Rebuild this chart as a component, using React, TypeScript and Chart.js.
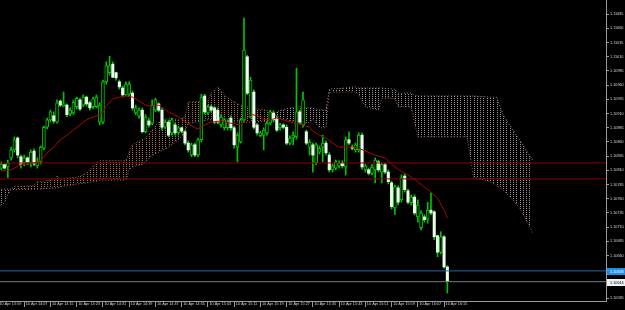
import { useEffect, useRef } from 'react';
import { Chart, registerables } from 'chart.js';

Chart.register(...registerables);

// bar index 1 = 10 Apr 14:00 (M1 bars)
const firstBar = 1;

const openP = [
  1.10814, 1.10820, 1.10816, 1.10832, 1.10846, 1.10867, 1.10834, 1.10823, 1.10832, 1.10823,
  1.10844, 1.10818, 1.10825, 1.10849, 1.10886, 1.10899, 1.10906, 1.10895, 1.10932, 1.10923,
  1.10925, 1.10909, 1.10911, 1.10922, 1.10934, 1.10925, 1.10939, 1.10929, 1.10922, 1.10922,
  1.10895, 1.10895, 1.10966, 1.10982, 1.10997, 1.10982, 1.10966, 1.10955, 1.10943, 1.10944,
  1.10946, 1.10911, 1.10906, 1.10916, 1.10878, 1.10897, 1.10893, 1.10916, 1.10927, 1.10916,
  1.10886, 1.10895, 1.10876, 1.10890, 1.10876, 1.10885, 1.10878, 1.10858, 1.10837, 1.10855,
  1.10837, 1.10864, 1.10941, 1.10911, 1.10922, 1.10920, 1.10916, 1.10890, 1.10885, 1.10885,
  1.10902, 1.10885, 1.10851, 1.10860, 1.10899, 1.11010, 1.10904, 1.10948, 1.10890, 1.10871,
  1.10872, 1.10876, 1.10893, 1.10911, 1.10902, 1.10885, 1.10890, 1.10886, 1.10858, 1.10867,
  1.10869, 1.10913, 1.10890, 1.10878, 1.10851, 1.10855, 1.10823, 1.10842, 1.10851, 1.10858,
  1.10837, 1.10811, 1.10814, 1.10818, 1.10823, 1.10816, 1.10864, 1.10851, 1.10846, 1.10846,
  1.10872, 1.10811, 1.10811, 1.10805, 1.10811, 1.10825, 1.10807, 1.10820, 1.10807, 1.10788,
  1.10744, 1.10779, 1.10758, 1.10800, 1.10774, 1.10753, 1.10763, 1.10728, 1.10709, 1.10728,
  1.10724, 1.10740, 1.10737, 1.10695, 1.10666, 1.10693, 1.10640,
];
const highP = [
  1.10825, 1.10821, 1.10828, 1.10851, 1.10869, 1.10869, 1.10837, 1.10837, 1.10834, 1.10846,
  1.10848, 1.10832, 1.10853, 1.10888, 1.10902, 1.10916, 1.10913, 1.10934, 1.10934, 1.10948,
  1.10927, 1.10920, 1.10934, 1.10939, 1.10937, 1.10943, 1.10941, 1.10932, 1.10939, 1.10943,
  1.10929, 1.10969, 1.11001, 1.11011, 1.11001, 1.10983, 1.10969, 1.10959, 1.10966, 1.10966,
  1.10950, 1.10925, 1.10920, 1.10920, 1.10908, 1.10902, 1.10934, 1.10937, 1.10929, 1.10920,
  1.10899, 1.10899, 1.10902, 1.10893, 1.10888, 1.10886, 1.10881, 1.10862, 1.10858, 1.10858,
  1.10867, 1.10944, 1.10944, 1.10925, 1.10925, 1.10923, 1.10920, 1.10908, 1.10902, 1.10899,
  1.10906, 1.10888, 1.10876, 1.10902, 1.11078, 1.11013, 1.10974, 1.10952, 1.10893, 1.10879,
  1.10885, 1.10897, 1.10916, 1.10915, 1.10906, 1.10893, 1.10892, 1.10890, 1.10871, 1.10878,
  1.10990, 1.10916, 1.10948, 1.10881, 1.10864, 1.10858, 1.10858, 1.10853, 1.10872, 1.10862,
  1.10841, 1.10821, 1.10828, 1.10827, 1.10827, 1.10869, 1.10878, 1.10855, 1.10858, 1.10876,
  1.10876, 1.10821, 1.10814, 1.10820, 1.10832, 1.10828, 1.10823, 1.10823, 1.10811, 1.10791,
  1.10784, 1.10783, 1.10802, 1.10804, 1.10777, 1.10767, 1.10767, 1.10758, 1.10739, 1.10732,
  1.10754, 1.10770, 1.10739, 1.10696, 1.10702, 1.10695, 1.10642,
];
const lowP = [
  1.10811, 1.10812, 1.10797, 1.10828, 1.10842, 1.10832, 1.10814, 1.10818, 1.10820, 1.10816,
  1.10818, 1.10814, 1.10821, 1.10846, 1.10883, 1.10895, 1.10893, 1.10893, 1.10922, 1.10922,
  1.10904, 1.10906, 1.10908, 1.10918, 1.10915, 1.10922, 1.10923, 1.10916, 1.10918, 1.10920,
  1.10890, 1.10892, 1.10962, 1.10978, 1.10973, 1.10969, 1.10953, 1.10939, 1.10941, 1.10941,
  1.10916, 1.10908, 1.10902, 1.10876, 1.10876, 1.10886, 1.10890, 1.10913, 1.10913, 1.10881,
  1.10883, 1.10869, 1.10872, 1.10872, 1.10872, 1.10876, 1.10855, 1.10842, 1.10834, 1.10834,
  1.10834, 1.10860, 1.10909, 1.10908, 1.10913, 1.10892, 1.10892, 1.10886, 1.10881, 1.10881,
  1.10881, 1.10849, 1.10825, 1.10858, 1.10895, 1.10943, 1.10902, 1.10883, 1.10872, 1.10869,
  1.10846, 1.10872, 1.10890, 1.10895, 1.10878, 1.10881, 1.10883, 1.10855, 1.10855, 1.10855,
  1.10865, 1.10892, 1.10886, 1.10855, 1.10837, 1.10807, 1.10820, 1.10839, 1.10825, 1.10837,
  1.10807, 1.10807, 1.10811, 1.10814, 1.10814, 1.10802, 1.10855, 1.10846, 1.10842, 1.10842,
  1.10812, 1.10807, 1.10802, 1.10802, 1.10788, 1.10807, 1.10788, 1.10804, 1.10786, 1.10742,
  1.10732, 1.10749, 1.10754, 1.10772, 1.10751, 1.10749, 1.10732, 1.10719, 1.10705, 1.10719,
  1.10717, 1.10732, 1.10688, 1.10658, 1.10663, 1.10638, 1.10594,
];
const closeP = [
  1.10821, 1.10814, 1.10823, 1.10846, 1.10864, 1.10837, 1.10820, 1.10832, 1.10825, 1.10842,
  1.10821, 1.10825, 1.10851, 1.10886, 1.10899, 1.10913, 1.10897, 1.10929, 1.10925, 1.10927,
  1.10908, 1.10916, 1.10930, 1.10937, 1.10918, 1.10939, 1.10927, 1.10920, 1.10936, 1.10939,
  1.10925, 1.10966, 1.10994, 1.10994, 1.10974, 1.10973, 1.10957, 1.10943, 1.10962, 1.10962,
  1.10920, 1.10920, 1.10916, 1.10878, 1.10904, 1.10890, 1.10925, 1.10934, 1.10916, 1.10886,
  1.10895, 1.10872, 1.10899, 1.10876, 1.10885, 1.10879, 1.10858, 1.10846, 1.10855, 1.10837,
  1.10864, 1.10939, 1.10913, 1.10922, 1.10916, 1.10895, 1.10895, 1.10904, 1.10899, 1.10895,
  1.10885, 1.10855, 1.10872, 1.10899, 1.11022, 1.10946, 1.10969, 1.10886, 1.10876, 1.10876,
  1.10881, 1.10893, 1.10913, 1.10899, 1.10881, 1.10890, 1.10886, 1.10858, 1.10867, 1.10872,
  1.10913, 1.10895, 1.10934, 1.10858, 1.10860, 1.10837, 1.10855, 1.10849, 1.10858, 1.10841,
  1.10811, 1.10818, 1.10825, 1.10823, 1.10818, 1.10864, 1.10858, 1.10849, 1.10855, 1.10872,
  1.10816, 1.10818, 1.10805, 1.10816, 1.10828, 1.10811, 1.10820, 1.10807, 1.10790, 1.10746,
  1.10781, 1.10754, 1.10797, 1.10776, 1.10754, 1.10763, 1.10735, 1.10749, 1.10735, 1.10723,
  1.10740, 1.10735, 1.10693, 1.10666, 1.10693, 1.10640, 1.10615,
];

// moving average (bar index, value)
const maIdx = [1, 4, 7, 11, 13, 15, 17, 19, 21, 23, 25, 27, 29, 31, 32, 33, 35, 37, 39, 41, 43, 45, 47, 49, 52, 55, 58, 60, 61, 63, 65, 68, 71, 74, 76, 77, 79, 81, 83, 85, 87, 89, 91, 93, 95, 96, 98, 100, 102, 104, 106, 108, 110, 112, 114, 116, 118, 120, 122, 124, 126, 128, 130, 132, 134, 136, 137];
const maVal = [1.10809, 1.10811, 1.10820, 1.10823, 1.10827, 1.10841, 1.10851, 1.10864, 1.10872, 1.10881, 1.10890, 1.10899, 1.10904, 1.10908, 1.10913, 1.10923, 1.10936, 1.10939, 1.10941, 1.10939, 1.10932, 1.10925, 1.10923, 1.10925, 1.10913, 1.10904, 1.10893, 1.10885, 1.10883, 1.10890, 1.10895, 1.10897, 1.10893, 1.10890, 1.10902, 1.10909, 1.10906, 1.10900, 1.10899, 1.10902, 1.10899, 1.10895, 1.10893, 1.10890, 1.10886, 1.10879, 1.10872, 1.10867, 1.10858, 1.10851, 1.10851, 1.10851, 1.10849, 1.10844, 1.10839, 1.10835, 1.10832, 1.10821, 1.10812, 1.10805, 1.10798, 1.10790, 1.10781, 1.10772, 1.10761, 1.10740, 1.10726];

// Ichimoku cloud (bar index, Senkou Span A, Senkou Span B)
const cloudIdx = [0, 2, 3, 4, 5, 11, 12, 17, 18, 19, 24, 27, 30, 31, 39, 40, 41, 44, 45, 47, 49, 52, 55, 57, 58, 64, 65, 67, 69, 71, 73, 77, 82, 84, 86, 91, 92, 95, 96, 98, 100, 101, 106, 109, 110, 112, 116, 117, 121, 122, 126, 127, 128, 143, 145, 150, 152, 154, 157, 159, 161, 163];
const spanA = [1.10746, 1.10753, 1.10767, 1.10777, 1.10781, 1.10783, 1.10790, 1.10793, 1.10800, 1.10795, 1.10798, 1.10805, 1.10823, 1.10827, 1.10827, 1.10842, 1.10855, 1.10864, 1.10867, 1.10881, 1.10895, 1.10902, 1.10899, 1.10904, 1.10930, 1.10932, 1.10946, 1.10957, 1.10943, 1.10934, 1.10927, 1.10920, 1.10916, 1.10909, 1.10902, 1.10895, 1.10890, 1.10895, 1.10900, 1.10885, 1.10885, 1.10948, 1.10948, 1.10948, 1.10943, 1.10922, 1.10916, 1.10937, 1.10937, 1.10922, 1.10922, 1.10895, 1.10869, 1.10869, 1.10798, 1.10790, 1.10783, 1.10776, 1.10758, 1.10744, 1.10723, 1.10700];
const spanB = [1.10777, 1.10777, 1.10777, 1.10777, 1.10776, 1.10777, 1.10777, 1.10779, 1.10779, 1.10781, 1.10786, 1.10788, 1.10791, 1.10793, 1.10793, 1.10811, 1.10816, 1.10821, 1.10825, 1.10837, 1.10842, 1.10851, 1.10864, 1.10876, 1.10893, 1.10899, 1.10899, 1.10899, 1.10897, 1.10895, 1.10895, 1.10895, 1.10897, 1.10909, 1.10916, 1.10922, 1.10922, 1.10920, 1.10920, 1.10916, 1.10916, 1.10953, 1.10955, 1.10957, 1.10955, 1.10955, 1.10955, 1.10955, 1.10953, 1.10946, 1.10946, 1.10943, 1.10941, 1.10941, 1.10941, 1.10939, 1.10939, 1.10908, 1.10881, 1.10864, 1.10846, 1.10828];

// horizontal levels
const redLevels = [1.10823, 1.10795];
const askLevel = 1.10633;
const bidLevel = 1.10614;

// axis ticks
const timeTickIdx = [0, 8, 16, 24, 32, 40, 48, 56, 64, 72, 80, 88, 96, 104, 112, 120, 128, 136];
const timeTickLabels = [
  '10 Apr 13:59', '10 Apr 14:07', '10 Apr 14:15', '10 Apr 14:23', '10 Apr 14:31', '10 Apr 14:39',
  '10 Apr 14:47', '10 Apr 14:55', '10 Apr 15:03', '10 Apr 15:11', '10 Apr 15:19', '10 Apr 15:27',
  '10 Apr 15:35', '10 Apr 15:43', '10 Apr 15:51', '10 Apr 15:59', '10 Apr 16:07', '10 Apr 16:15',
];
const priceTicks = [
  1.10585, 1.10610, 1.10635, 1.10660, 1.10685, 1.10710, 1.10735, 1.10760, 1.10785, 1.10810,
  1.10835, 1.10860, 1.10885, 1.10910, 1.10935, 1.10960, 1.10985, 1.11010, 1.11035, 1.11060, 1.11085,
];

const X_MIN = 0.61;
const X_MAX = 185.37;
const Y_MIN = 1.1058;
const Y_MAX = 1.1111;
const FONT = '"Liberation Sans", Arial, sans-serif';

export default function App() {
  const ref = useRef<HTMLCanvasElement>(null);

  useEffect(() => {
    document.body.style.margin = '0';
    document.body.style.background = '#000';
    const canvas = ref.current!;
    const ctx = canvas.getContext('2d')!;

    const makeDots = (color: string) => {
      const tile = document.createElement('canvas');
      tile.width = 82;
      tile.height = 2;
      const g = tile.getContext('2d')!;
      g.fillStyle = color;
      for (let k = 0; k < 25; k++) {
        const x = ((Math.round(-2 + 3.28 * k) % 82) + 82) % 82;
        g.fillRect(x, 0, 1, 1);
      }
      return ctx.createPattern(tile, 'repeat')!;
    };
    const brownDots = makeDots('#a8714a');
    const greyDots = makeDots('#9c8e9c');

    const bars = openP.map((_, k) => firstBar + k);
    const wicks = bars.map((x, k) => ({ x, y: [lowP[k], highP[k]] }));
    const bull = bars
      .map((x, k) => (closeP[k] >= openP[k] ? { x, y: [openP[k], closeP[k]] } : null))
      .filter(Boolean);
    const bear = bars
      .map((x, k) => (closeP[k] < openP[k] ? { x, y: [closeP[k], openP[k]] } : null))
      .filter(Boolean);

    const hline = (v: number) => [
      { x: X_MIN, y: v },
      { x: X_MAX, y: v },
    ];

    const tagPlugin = {
      id: 'priceTags',
      afterDraw(chart: any) {
        const ys = chart.scales.y;
        const c = chart.ctx;
        const left = chart.chartArea.right + 1;
        const tags = [
          { v: askLevel, bg: '#1f8fe6', fg: '#ffffff' },
          { v: bidLevel, bg: '#f2f2f2', fg: '#000000' },
        ];
        c.save();
        for (const t of tags) {
          const py = ys.getPixelForValue(t.v);
          c.fillStyle = t.bg;
          c.fillRect(left, Math.round(py) - 3, 625 - left, 7);
          c.fillStyle = t.fg;
          c.font = `3.8px ${FONT}`;
          c.textBaseline = 'middle';
          c.textAlign = 'left';
          c.fillText(t.v.toFixed(5), left + 3, Math.round(py) + 0.5);
        }
        c.restore();
      },
    };

    const chart = new Chart(canvas, {
      type: 'bar',
      data: {
        datasets: [
          {
            type: 'line',
            label: 'Senkou Span B',
            data: cloudIdx.map((x, k) => ({ x, y: spanB[k] })),
            borderColor: '#8e808e',
            borderWidth: 1,
            borderDash: [1, 2],
            pointRadius: 0,
            fill: false,
            order: 11,
          },
          {
            type: 'line',
            label: 'Senkou Span A',
            data: cloudIdx.map((x, k) => ({ x, y: spanA[k] })),
            borderColor: '#9c6440',
            borderWidth: 1,
            borderDash: [1, 2],
            pointRadius: 0,
            fill: { target: 0, above: brownDots, below: greyDots },
            order: 10,
          },
          {
            type: 'bar',
            label: 'wicks',
            data: wicks as any,
            grouped: false,
            barThickness: 1,
            backgroundColor: '#00c400',
            borderWidth: 0,
            order: 6,
          },
          {
            type: 'bar',
            label: 'bull',
            data: bull as any,
            grouped: false,
            barThickness: 3,
            backgroundColor: '#000000',
            borderColor: '#00c800',
            borderWidth: 1,
            borderSkipped: false,
            order: 5,
          },
          {
            type: 'bar',
            label: 'bear',
            data: bear as any,
            grouped: false,
            barThickness: 2.4,
            backgroundColor: '#eaffea',
            borderWidth: 0,
            order: 4,
          },
          {
            type: 'line',
            label: 'MA',
            data: maIdx.map((x, k) => ({ x, y: maVal[k] })),
            borderColor: '#a80808',
            borderWidth: 1,
            pointRadius: 0,
            fill: false,
            order: 3,
          },
          ...redLevels.map((v) => ({
            type: 'line' as const,
            label: 'level',
            data: hline(v),
            borderColor: '#8c0000',
            borderWidth: 1,
            pointRadius: 0,
            fill: false,
            order: 2,
          })),
          {
            type: 'line',
            label: 'ask',
            data: hline(askLevel),
            borderColor: '#2166a8',
            borderWidth: 1,
            pointRadius: 0,
            fill: false,
            order: 1,
          },
          {
            type: 'line',
            label: 'bid',
            data: hline(bidLevel),
            borderColor: '#7a7a7a',
            borderWidth: 1,
            pointRadius: 0,
            fill: false,
            order: 1,
          },
        ] as any,
      },
      options: {
        responsive: false,
        animation: false,
        events: [],
        layout: { padding: 0 },
        plugins: { legend: { display: false }, tooltip: { enabled: false } },
        scales: {
          x: {
            type: 'linear',
            min: X_MIN,
            max: X_MAX,
            offset: false,
            bounds: 'data',
            afterBuildTicks: (s: any) => {
              s.ticks = timeTickIdx.map((v) => ({ value: v }));
            },
            afterFit: (s: any) => {
              s.height = 9;
              s.paddingLeft = 0;
              s.paddingRight = 0;
            },
            ticks: {
              autoSkip: false,
              maxRotation: 0,
              minRotation: 0,
              align: 'start',
              padding: -5,
              labelOffset: 1.5,
              color: '#d2d2d2',
              font: { size: 3.8, family: FONT },
              callback: (v: any) => {
                const i = timeTickIdx.indexOf(Number(v));
                return i >= 0 ? timeTickLabels[i] : '';
              },
            },
            grid: { drawOnChartArea: false, drawTicks: true, tickLength: 6, color: '#9a9a9a', offset: false },
            border: { display: true, color: '#9a9a9a' },
          },
          y: {
            type: 'linear',
            position: 'right',
            min: Y_MIN,
            max: Y_MAX,
            bounds: 'data',
            afterBuildTicks: (s: any) => {
              s.ticks = priceTicks.map((v) => ({ value: v }));
            },
            afterFit: (s: any) => {
              s.width = 19;
              s.paddingTop = 0;
              s.paddingBottom = 0;
            },
            ticks: {
              autoSkip: false,
              padding: 1,
              color: '#d2d2d2',
              font: { size: 3.8, family: FONT },
              callback: (v: any) => Number(v).toFixed(5),
            },
            grid: { drawOnChartArea: false, drawTicks: true, tickLength: 3, color: '#9a9a9a' },
            border: { display: true, color: '#9a9a9a' },
          },
        },
      } as any,
      plugins: [tagPlugin],
    });

    return () => chart.destroy();
  }, []);

  return (
    <canvas
      ref={ref}
      width={625}
      height={310}
      style={{ display: 'block', background: '#000', width: 625, height: 310 }}
    />
  );
}
